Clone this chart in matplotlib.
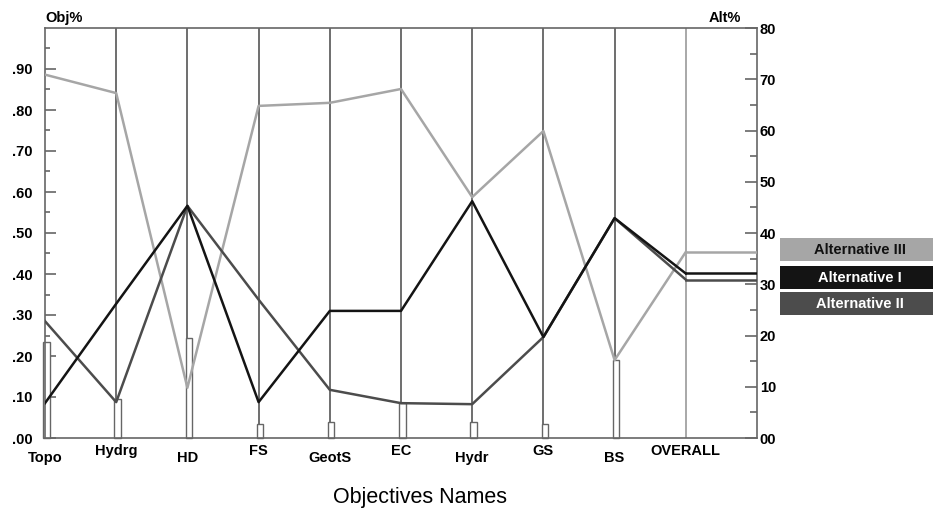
import numpy as np
import matplotlib.pyplot as plt
from matplotlib.patches import Rectangle

plt.rcParams['font.family'] = ['Liberation Sans', 'DejaVu Sans']

# data
objectives = ['Topo', 'Hydrg', 'HD', 'FS', 'GeotS', 'EC', 'Hydr', 'GS', 'BS', 'OVERALL']
obj_weight = [0.235, 0.095, 0.245, 0.035, 0.04, 0.085, 0.04, 0.035, 0.19]   # Obj%
alt_III = [70.9, 67.3, 9.8, 64.8, 65.4, 68.1, 47.0, 59.9, 15.2, 36.3]
alt_I = [6.8, 26.2, 45.3, 7.0, 24.8, 24.8, 46.2, 19.7, 42.9, 32.1]
alt_II = [22.8, 7.0, 45.3, 27.0, 9.4, 6.8, 6.6, 19.7, 42.9, 30.9]
alt_names = ['Alternative III', 'Alternative I', 'Alternative II']
alt_colors = ['#a6a6a6', '#141414', '#4c4c4c']
left_ticks = [0.0, 0.1, 0.2, 0.3, 0.4, 0.5, 0.6, 0.7, 0.8, 0.9]
right_ticks = [0, 10, 20, 30, 40, 50, 60, 70, 80]

fig = plt.figure(figsize=(9.33, 5.09), dpi=100)
ax = fig.add_axes([45/933, 1-438/509, (757-45)/933, (438-28)/509])
x = np.arange(len(objectives))

ax.set_xlim(0, 10)
ax.set_ylim(0, 1.0)
for s in ['top', 'bottom', 'left', 'right']:
    ax.spines[s].set_color('#666666')
    ax.spines[s].set_linewidth(1.2)

# vertical objective lines
for i in x[1:]:
    col = '#9a9a9a' if i == 9 else '#555555'
    ax.axvline(i, color=col, lw=1.2, zorder=1)

# objective weight bars
bars = ax.bar(x[:9] + 0.02, obj_weight, width=0.09, facecolor='white',
              edgecolor='#666666', linewidth=1.0, zorder=2)
for b in bars:
    b.set_clip_on(False)

# left axis ticks / labels
ax.set_yticks(left_ticks)
ax.set_yticklabels(['.00' if t == 0 else ('%.2f' % t)[1:] for t in left_ticks],
                   fontsize=10.5, fontweight='bold')
ax.set_yticks(np.arange(0.05, 1.0, 0.1), minor=True)
ax.tick_params(axis='y', which='major', direction='in', length=8, width=1.2,
               color='#666666', pad=9)
ax.tick_params(axis='y', which='minor', direction='in', length=3.6, width=1.2,
               color='#666666')
ax.set_xticks([])

ax2 = ax.twinx()
ax2.set_ylim(0, 80)
ax2.set_xlim(0, 10)
for s in ['top', 'bottom', 'left', 'right']:
    ax2.spines[s].set_visible(False)
ax2.set_yticks(right_ticks)
ax2.set_yticklabels(['00' if t == 0 else str(t) for t in right_ticks],
                    fontsize=10.5, fontweight='bold')
ax2.set_yticks(np.arange(5, 80, 10), minor=True)
ax2.tick_params(axis='y', which='major', direction='in', length=8.6, width=1.2,
                color='#666666', pad=2)
ax2.tick_params(axis='y', which='minor', direction='in', length=5, width=1.2,
                color='#666666')

for vals, c in zip([alt_III, alt_II, alt_I], [alt_colors[0], alt_colors[2], alt_colors[1]]):
    ax2.plot(x, vals, color=c, lw=1.8, zorder=3)
    ax2.plot([9, 10], [vals[-1], vals[-1]], color=c, lw=1.8, zorder=3)

# x labels, staggered
for i, name in enumerate(objectives):
    yy = -0.049 if i % 2 == 0 else -0.031
    ax.text(i, yy, name, ha='center', va='center', fontsize=10.5, fontweight='bold',
            transform=ax.transData, clip_on=False)

fig.text(45/933, 1-18/509, 'Obj%', ha='left', va='center', fontsize=10.5, fontweight='bold')
fig.text(741/933, 1-18/509, 'Alt%', ha='right', va='center', fontsize=10.5, fontweight='bold')
fig.text(420/933, 1-497/509, 'Objectives Names', ha='center', va='center', fontsize=15.5)

# legend boxes
box_y = [238, 266, 292]
txt_col = ['#111111', 'white', 'white']
for name, c, by, tc in zip(alt_names, alt_colors, box_y, txt_col):
    fig.patches.append(Rectangle((780/933, 1-(by+23)/509), 153/933, 23/509,
                                 transform=fig.transFigure, facecolor=c,
                                 edgecolor='none'))
    fig.text(860/933, 1-(by+11.5)/509, name, ha='center', va='center',
             fontsize=10.5, fontweight='bold', color=tc)

fig.savefig('out.png', dpi=100)
